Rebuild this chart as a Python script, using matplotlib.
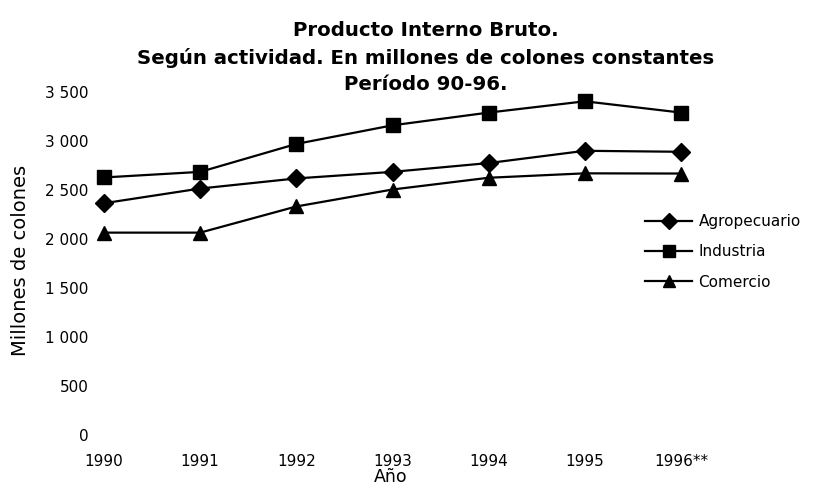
import matplotlib
matplotlib.use("Agg")
import matplotlib.pyplot as plt

# ---- data ----
years = ["1990", "1991", "1992", "1993", "1994", "1995", "1996**"]
agropecuario = [2365, 2515, 2618, 2685, 2775, 2900, 2890]
industria = [2628, 2685, 2970, 3160, 3290, 3405, 3290]
comercio = [2065, 2065, 2332, 2505, 2625, 2670, 2668]
series_names = ["Agropecuario", "Industria", "Comercio"]
y_ticks = [0, 500, 1000, 1500, 2000, 2500, 3000, 3500]
y_tick_labels = ["0", "500", "1 000", "1 500", "2 000", "2 500", "3 000", "3 500"]
title_lines = ["Producto Interno Bruto.",
               "Según actividad. En millones de colones constantes",
               "Período 90-96."]
ylabel = "Millones de colones"
xlabel = "Año"

W, H = 815, 488
fig = plt.figure(figsize=(W / 100, H / 100), dpi=100)
fig.patch.set_facecolor("white")

ax = fig.add_axes([104 / W, 53 / H, 577 / W, 343 / H])
x = list(range(len(years)))
styles = [("D", 9), ("s", 10), ("^", 10)]
for vals, name, (mk, ms) in zip([agropecuario, industria, comercio], series_names, styles):
    ax.plot(x, vals, color="black", lw=1.6, marker=mk, ms=ms,
            markerfacecolor="black", markeredgecolor="black",
            clip_on=False, label=name)

ax.set_xlim(0, len(years) - 1)
ax.set_ylim(0, 3500)
ax.set_xticks(x)
ax.set_xticklabels(years, fontsize=11, family="DejaVu Sans")
ax.set_yticks(y_ticks)
ax.set_yticklabels(y_tick_labels, fontsize=11, family="DejaVu Sans")
ax.tick_params(axis="y", length=0, pad=11)
ax.tick_params(axis="x", length=0, pad=13.5)
for s in ax.spines.values():
    s.set_visible(False)
ax.set_facecolor("none")

leg = ax.legend(loc="upper left", bbox_to_anchor=(645 / W, 1 - 214 / H),
                bbox_transform=fig.transFigure, frameon=False,
                borderpad=0, borderaxespad=0, handlelength=3.1,
                handletextpad=0.4, labelspacing=1.0, markerscale=0.85,
                prop={"family": "DejaVu Sans", "size": 11})

for txt, yc in zip(title_lines, [31, 58, 84]):
    fig.text(426 / W, 1 - yc / H, txt, ha="center", va="center",
             fontsize=14.2, fontweight="bold", family="DejaVu Sans")

fig.text(21 / W, 1 - 260 / H, ylabel, rotation=90, ha="center", va="center",
         fontsize=14, family="DejaVu Sans")
fig.text(391 / W, 2 / H, xlabel, ha="center", va="bottom",
         fontsize=12.5, family="DejaVu Sans")

fig.savefig("out.png", dpi=100, facecolor="white")
